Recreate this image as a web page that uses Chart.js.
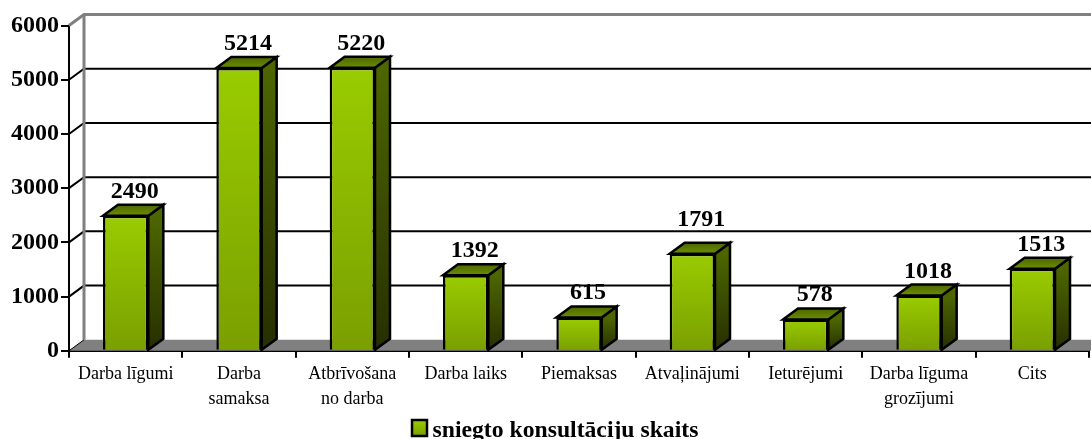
<!DOCTYPE html>
<html><head><meta charset="utf-8">
<style>html,body{margin:0;padding:0;background:#fff}</style>
<script src="https://cdn.jsdelivr.net/npm/chart.js@4"></script>
</head><body><canvas id="c" width="1091" height="439" style="display:block"></canvas>
<script>
const categories = [["Darba līgumi"],["Darba","samaksa"],["Atbrīvošana","no darba"],["Darba laiks"],["Piemaksas"],["Atvaļinājumi"],["Ieturējumi"],["Darba līguma","grozījumi"],["Cits"]];
const seriesName = "sniegto konsultāciju skaits";
const values = [2490,5214,5220,1392,615,1791,578,1018,1513];
const DX = 15, DY = 11;
const serif = "'Liberation Serif','Times New Roman',serif";

function vGrad(ctx, y0, y1, a, b){ const g = ctx.createLinearGradient(0,y0,0,y1); g.addColorStop(0,a); g.addColorStop(1,b); return g; }

const walls = {
  id:'walls',
  afterLayout(chart){ chart.legend.left += 20; chart.legend.top += 14; chart.scales.x.bottom += 40; },
  beforeDatasetsDraw(chart){
    const {ctx, scales:{x,y}} = chart, L = x.left, B = y.bottom, R = chart.width;
    ctx.save();
    ctx.fillStyle = '#808080';
    ctx.beginPath(); ctx.moveTo(L,B); ctx.lineTo(L+DX,B-DY); ctx.lineTo(R,B-DY); ctx.lineTo(R,B); ctx.closePath(); ctx.fill();
    y.ticks.forEach(t=>{
      if (t.value === 0) return;
      const p = y.getPixelForValue(t.value), top = t.value === y.max;
      ctx.strokeStyle = top ? '#808080' : '#000';
      ctx.lineWidth = top ? 3 : 2;
      ctx.beginPath(); ctx.moveTo(L,p); ctx.lineTo(L+DX,p-DY); ctx.lineTo(R,p-DY); ctx.stroke();
    });
    ctx.strokeStyle = '#808080'; ctx.lineWidth = 3;
    ctx.beginPath(); ctx.moveTo(L+DX,y.top-DY); ctx.lineTo(L+DX,B-DY); ctx.stroke();
    ctx.lineWidth = 1; ctx.strokeStyle = '#000';
    ctx.beginPath(); ctx.moveTo(L,B); ctx.lineTo(L+DX,B-DY); ctx.stroke();
    ctx.lineWidth = 2.5;
    ctx.lineJoin = 'miter';
    chart.getDatasetMeta(0).data.forEach(b=>{
      const xr = b.x + b.width/2, xl = b.x - b.width/2, t = b.y, bt = b.base;
      ctx.fillStyle = vGrad(ctx,t,bt,'#4d6600','#262f00');
      ctx.beginPath(); ctx.moveTo(xr,t); ctx.lineTo(xr+DX,t-DY); ctx.lineTo(xr+DX,bt-DY); ctx.lineTo(xr,bt); ctx.closePath(); ctx.fill(); ctx.stroke();
      ctx.fillStyle = vGrad(ctx,t-DY,t,'#4d6600','#6b8f00');
      ctx.beginPath(); ctx.moveTo(xl,t); ctx.lineTo(xl+DX,t-DY); ctx.lineTo(xr+DX,t-DY); ctx.lineTo(xr,t); ctx.closePath(); ctx.fill(); ctx.stroke();
    });
    ctx.restore();
  },
  afterDatasetsDraw(chart){
    const {ctx} = chart;
    ctx.save();
    ctx.font = "bold 24px "+serif; ctx.fillStyle='#000'; ctx.textAlign='center'; ctx.textBaseline='alphabetic';
    chart.getDatasetMeta(0).data.forEach((b,i)=> ctx.fillText(String(values[i]), b.x+9, b.y-(values[i]===1791?28:18)));
    ctx.restore();
  },
  afterDraw(chart){
    const {ctx} = chart;
    ctx.save();
    ctx.fillStyle = vGrad(ctx,420,436,'#99cc00','#7a9f00');
    ctx.strokeStyle = '#000'; ctx.lineWidth = 2.5;
    ctx.fillRect(412,420,15,16); ctx.strokeRect(412,420,15,16);
    ctx.restore();
  }
};

new Chart(document.getElementById('c'),{
  type:'bar',
  data:{labels:categories,datasets:[{label:seriesName,data:values,
    backgroundColor(c){
      const ch=c.chart; if(!ch.chartArea || c.dataIndex===undefined) return '#99cc00';
      return vGrad(ch.ctx, ch.scales.y.getPixelForValue(c.raw), ch.scales.y.bottom, '#99cc00', '#7a9f00');
    },
    borderColor:'#000',borderWidth:2.5,barPercentage:0.4,categoryPercentage:1}]},
  options:{
    responsive:false,animation:false,
    layout:{padding:{top:25.5,right:2,left:0,bottom:0}},
    scales:{
      x:{grid:{drawOnChartArea:false,color:'#000',lineWidth:2,tickLength:7},border:{color:'#000',width:2},
         ticks:{color:'#000',font:{family:serif,size:18,lineHeight:1.4},maxRotation:0,autoSkip:false,padding:4},
         afterFit(s){s.height=46.5;}},
      y:{min:0,max:6000,grid:{drawOnChartArea:false,color:'#000',lineWidth:2,tickLength:8},border:{color:'#000',width:2},
         ticks:{stepSize:1000,color:'#000',font:{family:serif,size:24,weight:'bold'},padding:2,callback:v=>String(v)},
         afterFit(s){s.width=69;}}
    },
    plugins:{
      tooltip:{enabled:false},
      legend:{position:'bottom',labels:{boxWidth:10,boxHeight:10,padding:8,color:'#000',font:{family:serif,size:23.7,weight:'bold'},
        generateLabels(ch){return [{text:seriesName,fillStyle:'rgba(0,0,0,0)',strokeStyle:'rgba(0,0,0,0)',lineWidth:0,datasetIndex:0}];}}}
    }
  },
  plugins:[walls]
});
</script></body></html>
